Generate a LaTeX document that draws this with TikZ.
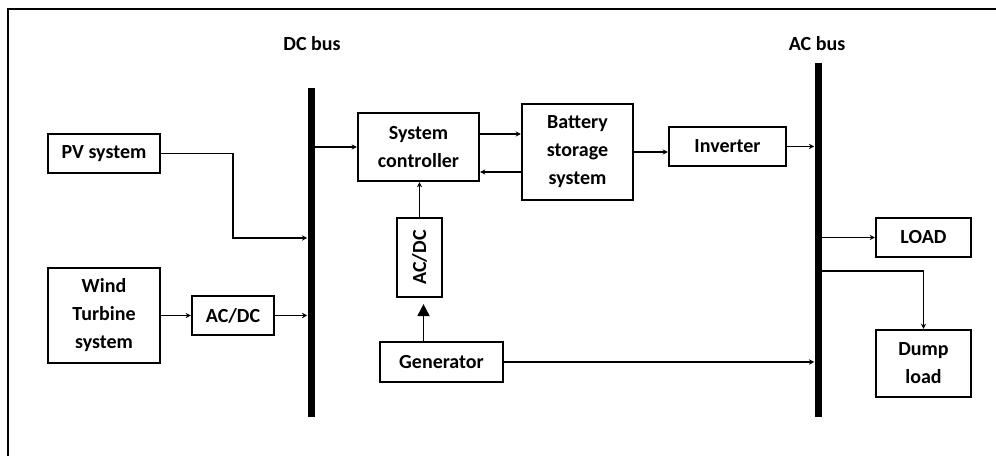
\documentclass[tikz,border=0pt]{standalone}
\usepackage{fontspec}
\setmainfont{Carlito}
\usetikzlibrary{arrows.meta,positioning,calc}
\newcommand{\px}{0.75pt}
\tikzset{
  blk/.style   ={draw, line width=1.6pt, align=center, inner sep=1pt,
                 font=\bfseries\fontsize{15}{21}\selectfont},
  bus/.style   ={fill=black, minimum width=7*\px, inner sep=0pt},
  buslbl/.style={font=\bfseries\fontsize{15}{18}\selectfont},
  far/.style   ={-{Stealth[length=4pt,width=4pt]}, line width=1.35pt},
  fbig/.style  ={-{Triangle[length=9pt,width=9pt]}, line width=1.35pt},
}
\begin{document}
\begin{tikzpicture}[x=\px, y=\px]
\useasboundingbox (0,0) rectangle (996,456);

% frame
\draw[line width=1.8pt] (8,0) -- (8,447) -- (996,447);

% buses
\node[bus, minimum height=329*\px] (dcbus) at (311,203.5) {};
\node[bus, minimum height=354*\px] (acbus) at (818,216) {};
\node[buslbl] (dclbl) at (312,412) {DC bus};
\node[buslbl] (aclbl) at (817,412) {AC bus};

% sources
\node[blk, minimum width=112*\px, minimum height=39*\px] (pv) at (104,302.5) {PV system};
\node[blk, minimum width=112*\px, minimum height=95*\px] (wind) at (104,140.5)
  {Wind\\Turbine\\system};
\node[blk, minimum width=82*\px, minimum height=39*\px] (acdca) at (233,140.5) {AC/DC};

% controller, storage, generator
\node[blk, minimum width=121*\px, minimum height=68*\px] (ctrl) at (418.5,309)
  {System\\controller};
\node[blk, minimum width=45*\px, minimum height=79*\px] (acdcb) at (419.5,198.5)
  {\rotatebox{90}{AC/DC}};
\node[blk, minimum width=123*\px, minimum height=40*\px] (gen) at (441.5,94) {Generator};
\node[blk, minimum width=111*\px, minimum height=96*\px] (batt) at (577.5,304)
  {Battery\\storage\\system};
\node[blk, minimum width=117*\px, minimum height=39*\px] (inv) at (727.5,309.5) {Inverter};

% loads
\node[blk, minimum width=95*\px, minimum height=39*\px] (load) at (923.5,218.5) {LOAD};
\node[blk, minimum width=95*\px, minimum height=67*\px] (dump) at (923.5,92.5)
  {Dump\\load};

% tap points
\coordinate (pvin) at (dcbus.west |- 0,218);
\coordinate (c2b) at ($(ctrl.east)+(0,13)$);
\coordinate (b2c) at ($(ctrl.east)+(0,-25)$);
\coordinate (dtap) at (acbus.east |- 0,185);
\coordinate (gup) at ($(acdcb.south)+(4,0)$);

% into the DC bus
\draw[far] (pv.east) -| (acdca |- pvin) -- (pvin);
\draw[far] (wind.east) -- (acdca.west);
\draw[far] (acdca.east) -- (dcbus.west |- acdca.east);
\draw[far] (dcbus.east |- ctrl.west) -- (ctrl.west);

% controller and battery
\draw[far] (c2b) -- (c2b -| batt.west);
\draw[far] (b2c -| batt.west) -- (b2c);
\draw[far] (batt.east) -- (batt.east -| inv.west);
\draw[far] (acdcb.north) -- (acdcb.north |- ctrl.south);
\draw[fbig, shorten >=6*\px] (gup |- gen.north) -- (gup);

% onto the AC bus
\draw[far] (inv.east) -- (acbus.west |- inv.east);
\draw[far] (gen.east) -- (acbus.west |- gen.east);
\draw[far] (acbus.east |- load.west) -- (load.west);
\draw[far] (dtap) -| (dump.north);

\end{tikzpicture}
\end{document}
